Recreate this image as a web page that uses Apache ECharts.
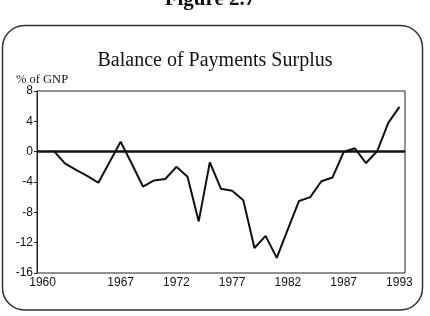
<!DOCTYPE html>
<html>
<head>
<meta charset="utf-8">
<script src="https://cdn.jsdelivr.net/npm/echarts@6/dist/echarts.min.js"></script>
<style>
html,body{margin:0;padding:0;background:#fff;}
#chart{width:430px;height:316px;}
</style>
</head>
<body>
<div id="chart"></div>
<script>
const years = ['1960','1961','1962','1963','1964','1965','1966','1967','1968','1969','1970',
  '1971','1972','1973','1974','1975','1976','1977','1978','1979','1980',
  '1981','1982','1983','1984','1985','1986','1987','1988','1989','1990','1991','1992'];
const surplus = [null, 0.1, -1.55, -2.4, -3.2, -4.1, -1.4, 1.3, -1.6, -4.6, -3.8,
  -3.6, -2.0, -3.3, -9.2, -1.4, -4.9, -5.15, -6.4, -12.7, -11.1,
  -14.0, -10.2, -6.5, -6.0, -3.9, -3.4, -0.05, 0.45, -1.5, 0.05, 3.8, 5.9];
const xTickYears = ['1960','1967','1972','1977','1982','1987','1992'];
const xTickLabels = ['1960','1967','1972','1977','1982','1987','1993'];
const yTicks = [8, 4, 0, -4, -8, -12, -16];

const chart = echarts.init(document.getElementById('chart'), null, {renderer:'canvas'});
chart.setOption({
  animation: false,
  backgroundColor: '#fff',
  title: {
    text: 'Balance of Payments Surplus',
    left: 'center',
    top: 46,
    textStyle: {fontFamily: 'Liberation Serif', fontSize: 20, fontWeight: 'normal', color: '#111'}
  },
  graphic: [
    {type: 'rect', shape: {x: 2.5, y: 25.5, width: 420, height: 284.5, r: 22},
     style: {fill: 'none', stroke: '#333', lineWidth: 1.5}, silent: true},
    {type: 'text', x: 210, y: 0,
     style: {text: 'Figure 2.7', font: 'bold 21px "Liberation Serif"', fill: '#111',
             textAlign: 'center', textVerticalAlign: 'middle'}},
    {type: 'text', x: 16, y: 80,
     style: {text: '% of GNP', font: '12.5px "Liberation Serif"', fill: '#111',
             textAlign: 'left', textVerticalAlign: 'middle'}}
  ],
  grid: {left: 37, right: 25, top: 91, bottom: 43, show: true, borderColor: '#222', borderWidth: 1},
  xAxis: {
    type: 'category',
    data: years,
    boundaryGap: true,
    axisLine: {show: true, lineStyle: {color: '#222', width: 1}},
    axisTick: {show: false},
    splitLine: {show: false},
    axisLabel: {
      interval: (i, v) => xTickYears.includes(v),
      formatter: v => xTickLabels[xTickYears.indexOf(v)],
      margin: 4,
      fontFamily: 'Liberation Sans', fontSize: 12, color: '#111'
    }
  },
  yAxis: {
    type: 'value',
    min: -16, max: 8, interval: 4,
    axisLine: {show: true, lineStyle: {color: '#222', width: 1}},
    axisTick: {show: true, inside: false, length: 3, lineStyle: {color: '#222'}},
    splitLine: {show: false},
    axisLabel: {
      margin: 4,
      formatter: v => yTicks.includes(v) ? String(v) : '',
      fontFamily: 'Liberation Sans', fontSize: 12, color: '#111'
    }
  },
  series: [{
    type: 'line',
    data: surplus,
    showSymbol: false,
    symbol: 'none',
    connectNulls: false,
    lineStyle: {color: '#111', width: 2},
    z: 3,
    markLine: {
      silent: true,
      symbol: ['none', 'none'],
      label: {show: false},
      lineStyle: {color: '#111', width: 2.5, type: 'solid'},
      data: [{yAxis: 0}],
      z: 2
    }
  }]
});
</script>
</body>
</html>
